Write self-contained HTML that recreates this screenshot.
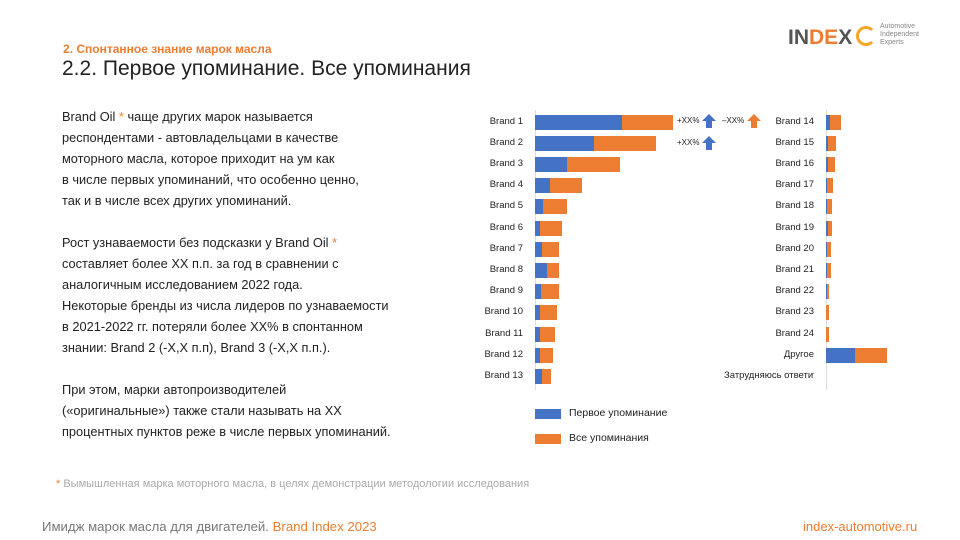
<!DOCTYPE html>
<html><head><meta charset="utf-8"><style>
body{margin:0;width:960px;height:540px;background:#fff;position:relative;overflow:hidden;font-family:"Liberation Sans","DejaVu Sans",sans-serif;}
.a{position:absolute;white-space:nowrap}
.t{font-size:12.8px;color:#222;line-height:21px}
.lb{font-size:9.5px;color:#222;text-align:right;width:90px}
.b{position:absolute;height:15px;background:#4472c4}
.o{position:absolute;height:15px;background:#ed7d31}
.or{color:#ed7d31}
</style></head><body>
<div class="a" style="left:63px;top:42px;font-size:12px;font-weight:bold;color:#ed7d31">2. Спонтанное знание марок масла</div>
<div class="a" style="left:62px;top:57px;font-size:21px;color:#222">2.2. Первое упоминание. Все упоминания</div>
<div class="a" style="left:788px;top:26px;font-size:21px;font-weight:bold;color:#555">IN<span class="or">DE</span>X</div>
<div class="a" style="left:856px;top:26px;width:14px;height:14px;border:3px solid #f5a623;border-radius:50%;border-right-color:transparent"></div>
<div class="a" style="left:880px;top:23px;font-size:7px;line-height:8px;color:#888">Automotive<br>Independent<br>Experts</div>
<div class="a t" style="left:62px;top:106px">Brand Oil <span class="or">*</span> чаще других марок называется<br>респондентами - автовладельцами в качестве<br>моторного масла, которое приходит на ум как<br>в числе первых упоминаний, что особенно ценно,<br>так и в числе всех других упоминаний.<br><br>Рост узнаваемости без подсказки у Brand Oil <span class="or">*</span><br>составляет более XX п.п. за год в сравнении с<br>аналогичным исследованием 2022 года.<br>Некоторые бренды из числа лидеров по узнаваемости<br>в 2021-2022 гг. потеряли более XX% в спонтанном<br>знании: Brand 2 (-Х,Х п.п), Brand 3 (-Х,Х п.п.).<br><br>При этом, марки автопроизводителей<br>(«оригинальные») также стали называть на XX<br>процентных пунктов реже в числе первых упоминаний.</div>
<div class="a" style="left:56px;top:478px;font-size:11px;color:#aaa"><span class="or">*</span> Вымышленная марка моторного масла, в целях демонстрации методологии исследования</div>
<div class="a" style="left:42px;top:519px;font-size:13.2px;color:#777">Имидж марок масла для двигателей. <span class="or">Brand Index 2023</span></div>
<div class="a" style="left:803px;top:519px;font-size:13px;color:#ed7d31">index-automotive.ru</div>
<div class="a" style="left:535px;top:110px;width:1px;height:280px;background:#ddd"></div>
<div class="a" style="left:826px;top:110px;width:1px;height:280px;background:#ddd"></div>
<div id="c"></div>
<div class="a" style="left:677px;top:116px;font-size:8px;color:#222">+XX%</div>
<div class="a" style="left:722px;top:116px;font-size:8px;color:#222">–XX%</div>
<div class="a" style="left:677px;top:138px;font-size:8px;color:#222">+XX%</div>
<svg class="a" style="left:702px;top:114px" width="14" height="14"><polygon points="7,0 14,7 10,7 10,14 4,14 4,7 0,7" fill="#4472c4"/></svg>
<svg class="a" style="left:747px;top:114px" width="14" height="14"><polygon points="7,0 14,7 10,7 10,14 4,14 4,7 0,7" fill="#ed7d31"/></svg>
<svg class="a" style="left:702px;top:136px" width="14" height="14"><polygon points="7,0 14,7 10,7 10,14 4,14 4,7 0,7" fill="#4472c4"/></svg>
<div class="a" style="left:535px;top:409px;width:26px;height:10px;background:#4472c4"></div>
<div class="a" style="left:569px;top:407px;font-size:10.5px;color:#222">Первое упоминание</div>
<div class="a" style="left:535px;top:434px;width:26px;height:10px;background:#ed7d31"></div>
<div class="a" style="left:569px;top:432px;font-size:10.5px;color:#222">Все упоминания</div>
<script>
var L=[[622,673],[594,656],[567,620],[550,582],[543,567],[540,562],[542,559],[547,559],[541,559],[540,557],[540,555],[540,553],[542,551]];
var R=[[830,841],[828,836],[828,835],[827,833],[827,832],[828,832],[827,831],[827,831],[827,829],[826,829],[826,829],[855,887],null];
var RN=[];for(var i=14;i<=24;i++)RN.push("Brand "+i);RN.push("Другое");RN.push("Затрудняюсь ответить");
var h="";
for(var i=0;i<13;i++){var y=114.5+i*21.2;
h+='<div class="a lb" style="left:433px;top:'+(y+1)+'px">Brand '+(i+1)+'</div>';
h+='<div class="b" style="left:535px;top:'+y+'px;width:'+(L[i][0]-535)+'px"></div>';
h+='<div class="o" style="left:'+L[i][0]+'px;top:'+y+'px;width:'+(L[i][1]-L[i][0])+'px"></div>';
h+='<div class="a lb" style="left:724px;top:'+(y+1)+'px;width:90px;overflow:hidden">'+RN[i]+'</div>';
if(R[i]){h+='<div class="b" style="left:826px;top:'+y+'px;width:'+(R[i][0]-826)+'px"></div>';
h+='<div class="o" style="left:'+R[i][0]+'px;top:'+y+'px;width:'+(R[i][1]-R[i][0])+'px"></div>';}}
document.getElementById("c").innerHTML=h;
</script>
</body></html>
